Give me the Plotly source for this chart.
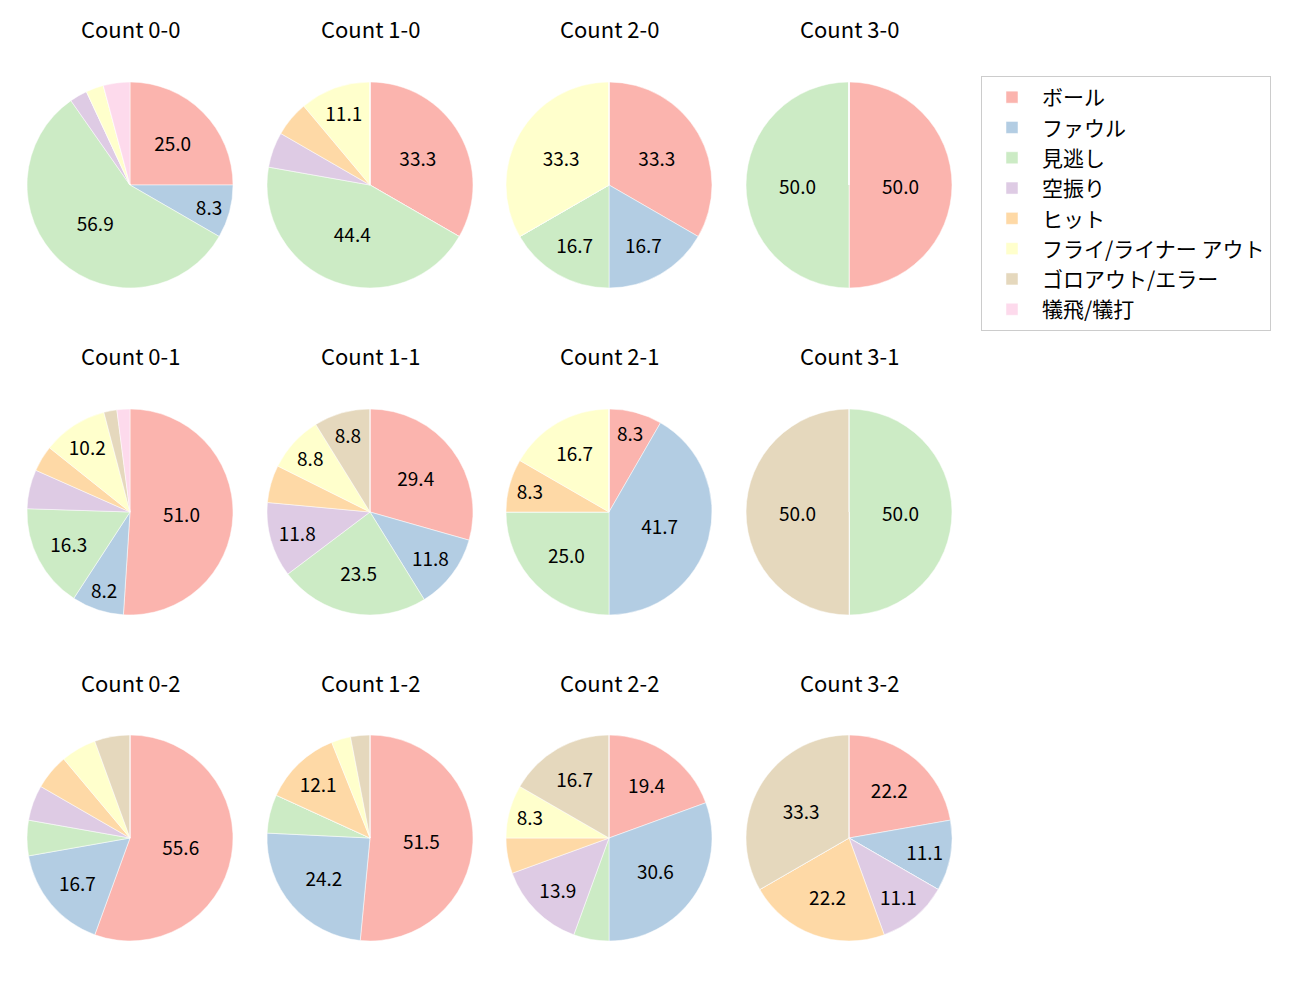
import plotly.graph_objects as go

# 打席結果の分類（凡例の順）
labels = ["ボール", "ファウル", "見逃し", "空振り", "ヒット",
          "フライ/ライナー アウト", "ゴロアウト/エラー", "犠飛/犠打"]
colors = ["#fbb4ae", "#b3cde3", "#ccebc5", "#decbe4",
          "#fed9a6", "#ffffcc", "#e5d8bd", "#fddaec"]

# カウントごとの件数（labels の順）
count_0_0 = [18, 6, 41, 2, 0, 2, 0, 3]
count_1_0 = [6, 0, 8, 1, 1, 2, 0, 0]
count_2_0 = [2, 1, 1, 0, 0, 2, 0, 0]
count_3_0 = [1, 0, 1, 0, 0, 0, 0, 0]
count_0_1 = [25, 4, 8, 3, 2, 5, 1, 1]
count_1_1 = [10, 4, 8, 4, 2, 3, 3, 0]
count_2_1 = [1, 5, 3, 0, 1, 2, 0, 0]
count_3_1 = [0, 0, 1, 0, 0, 0, 1, 0]
count_0_2 = [10, 3, 1, 1, 1, 1, 1, 0]
count_1_2 = [17, 8, 2, 0, 4, 1, 1, 0]
count_2_2 = [7, 11, 2, 5, 2, 3, 6, 0]
count_3_2 = [2, 1, 0, 1, 2, 0, 3, 0]

counts = {
    "Count 0-0": count_0_0, "Count 1-0": count_1_0, "Count 2-0": count_2_0, "Count 3-0": count_3_0,
    "Count 0-1": count_0_1, "Count 1-1": count_1_1, "Count 2-1": count_2_1, "Count 3-1": count_3_1,
    "Count 0-2": count_0_2, "Count 1-2": count_1_2, "Count 2-2": count_2_2, "Count 3-2": count_3_2,
}

W, H = 1300, 1000
OFF = 8  # ページ本体の余白ぶん
col_cx = [130, 370, 609, 849]
row_cy = [185, 512, 838]
title_y = [28, 355, 682]
R = 103
FONT = "Noto Sans CJK JP, Noto Sans, sans-serif"

fig = go.Figure()
for i, (title, vals) in enumerate(counts.items()):
    r, c = divmod(i, 4)
    cx, cy = col_cx[c] - OFF, row_cy[r] - OFF
    total = sum(vals)
    # 7%未満のスライスはラベルを出さない
    text = [f"{v / total * 100:.1f}" if v / total * 100 >= 7 else "" for v in vals]
    fig.add_trace(go.Pie(
        labels=labels,
        values=vals,
        text=text,
        textinfo="text",
        textposition="inside",
        insidetextorientation="horizontal",
        textfont=dict(size=19, color="black", family=FONT),
        marker=dict(colors=colors, line=dict(color="white", width=0.5)),
        sort=False,
        direction="clockwise",
        rotation=0,
        domain=dict(x=[(cx - R) / W, (cx + R) / W], y=[1 - (cy + R) / H, 1 - (cy - R) / H]),
        showlegend=(i == 0),
        hoverinfo="label+value+percent",
    ))
    fig.add_annotation(
        text=title, x=cx / W, y=1 - (title_y[r] - OFF) / H,
        xref="paper", yref="paper", showarrow=False,
        xanchor="center", yanchor="middle",
        font=dict(size=22, color="black", family=FONT),
    )

fig.update_layout(
    width=W, height=H,
    margin=dict(l=0, r=0, t=0, b=0),
    paper_bgcolor="white",
    plot_bgcolor="white",
    font=dict(family=FONT, color="black"),
    legend=dict(
        x=(981 - OFF) / W, y=1 - (76 - OFF) / H, xanchor="left", yanchor="top",
        bordercolor="#cccccc", borderwidth=1,
        font=dict(size=21, family=FONT),
        tracegroupgap=0,
        itemwidth=50,
    ),
)

fig.write_html("out.html")
